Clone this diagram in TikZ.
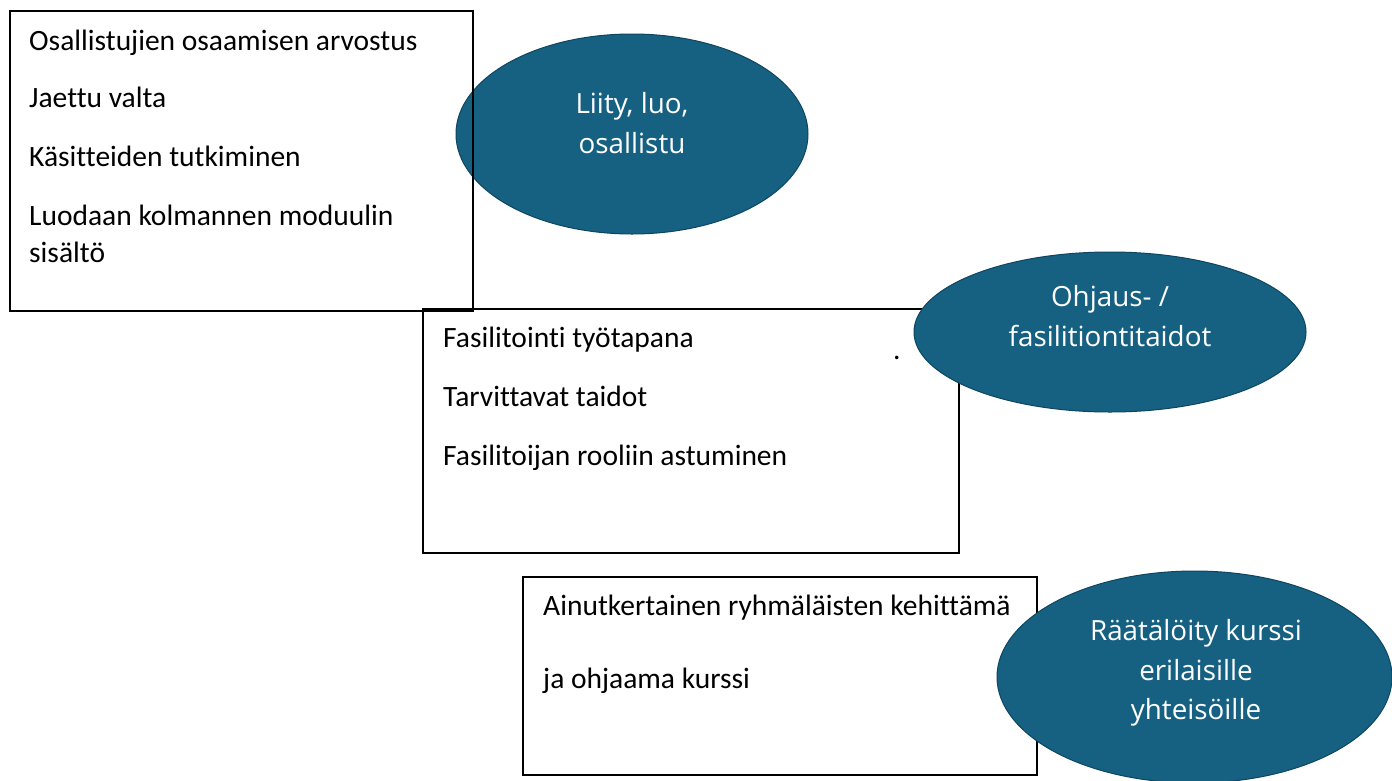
\documentclass[tikz,border=0pt]{standalone}
\usepackage{fontspec}
\setmainfont{Carlito}[Ligatures={NoCommon,NoContextual}]
\newfontfamily\ellfont{Open Sans}
\usetikzlibrary{shapes.geometric}
\definecolor{tealfill}{RGB}{22,96,130}
\definecolor{tealedge}{RGB}{14,70,96}
\tikzset{
  item/.style={anchor=base west, inner sep=0pt, font=\fontsize{29.5}{35}\selectfont, text=black},
  blob/.style={ellipse, draw=tealedge, line width=1pt, fill=tealfill, inner sep=0pt},
  blobtext/.style={align=center, inner sep=0pt, text=white, font=\ellfont\fontsize{27.8}{39.5}\selectfont}
}
\begin{document}
\begin{tikzpicture}[x=1pt,y=-1pt]
\useasboundingbox (0,0) rectangle (1392,780);
\clip (0,0) rectangle (1392,780);
\fill[white] (0,0) rectangle (1392,780);

% ellipse 1 (under box 1)
\node[blob, minimum width=352pt, minimum height=200pt] (e1) at (632,134) {};
\node[blobtext] (t1) at (632,123) {Liity, luo,\\osallistu};

% box 1
\coordinate (b1a) at (10,11);
\coordinate (b1b) at (473,311);
\draw[line width=1.4pt] (b1a) rectangle (b1b);
\node[item] (l11) at (29,50) {Osallistujien osaamisen arvostus};
\node[item] (l12) at (29,107) {Jaettu valta};
\node[item] (l13) at (29,166) {Käsitteiden tutkiminen};
\node[item] (l14) at (29,225) {Luodaan kolmannen moduulin};
\node[item] (l15) at (29,262) {sisältö};

% box 2
\coordinate (b2a) at (423,309);
\coordinate (b2b) at (959,553);
\draw[line width=1.4pt] (b2a) rectangle (b2b);
\node[item] (l21) at (443,347) {Fasilitointi työtapana};
\node[item] (l22) at (443,406) {Tarvittavat taidot};
\node[item] (l23) at (443,465) {Fasilitoijan rooliin astuminen};
\node[item] (dot) at (893,359) {.};

% ellipse 2 (over box 2)
\node[blob, minimum width=392pt, minimum height=160pt] (e2) at (1110,332) {};
\node[blobtext] (t2) at (1110,316) {Ohjaus- /\\fasilitiontitaidot};

% box 3
\coordinate (b3a) at (523,577);
\coordinate (b3b) at (1037,775);
\draw[line width=1.4pt] (b3a) rectangle (b3b);
\node[item] (l31) at (543,615) {Ainutkertainen ryhmäläisten kehittämä};
\node[item] (l32) at (543,688) {ja ohjaama kurssi};

% ellipse 3 (over box 3)
\node[blob, minimum width=395pt, minimum height=212pt] (e3) at (1194.5,677) {};
\node[blobtext] (t3) at (1196,673) {Räätälöity kurssi\\erilaisille\\yhteisöille};
\end{tikzpicture}
\end{document}
